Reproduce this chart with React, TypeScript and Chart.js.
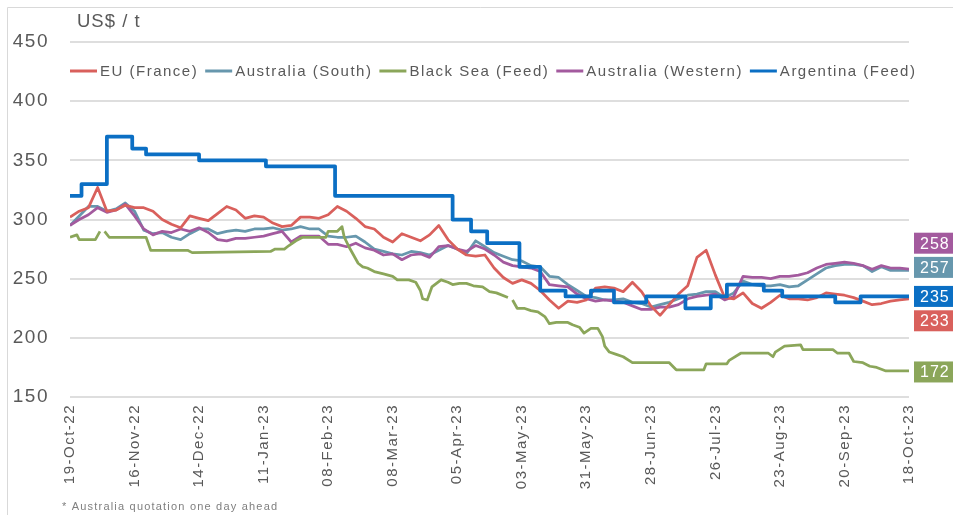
import React, { useEffect, useRef } from 'react';
import { Chart, registerables } from 'chart.js';

Chart.register(...registerables);

// ---------- DATA ----------
// day offsets from 19-Oct-22 (4-day sampling for the quoted series)
const DAYS = [
  0, 4, 8, 12, 16, 20, 24, 28, 32, 36,
  40, 44, 48, 52, 56, 60, 64, 68, 72, 76,
  80, 84, 88, 92, 96, 100, 104, 108, 112, 116,
  120, 124, 128, 132, 136, 140, 144, 148, 152, 156,
  160, 164, 168, 172, 176, 180, 184, 188, 192, 196,
  200, 204, 208, 212, 216, 220, 224, 228, 232, 236,
  240, 244, 248, 252, 256, 260, 264, 268, 272, 276,
  280, 284, 288, 292, 296, 300, 304, 308, 312, 316,
  320, 324, 328, 332, 336, 340, 344, 348, 352, 356,
  360, 364,
];

const EU_FRANCE = [
  302, 307, 310, 327, 307, 308, 312, 310, 310, 307,
  300, 296, 293, 303, 301, 299, 305, 311, 308, 301,
  303, 302, 297, 294, 295, 302, 302, 301, 304, 311,
  307, 301, 294, 292, 285, 281, 288, 285, 282, 287,
  295, 283, 275, 270, 269, 270, 259, 251, 246, 249,
  246, 240, 232, 225, 231, 230, 232, 242, 243, 242,
  239, 247, 239, 227, 219, 228, 237, 244, 268, 274,
  253, 234, 233, 238, 229, 225, 230, 236, 233, 233,
  232, 234, 238, 237, 236, 234, 231, 228, 229, 231,
  232, 233,
];

const AUS_SOUTH = [
  295, 303, 311, 311, 307, 309, 314, 307, 291, 288,
  289, 285, 283, 288, 292, 292, 288, 290, 291, 290,
  292, 292, 293, 291, 292, 294, 292, 292, 286, 285,
  285, 286, 281, 275, 273, 271, 270, 273, 272, 270,
  274, 278, 275, 271, 282, 277, 272, 269, 266, 265,
  261, 260, 252, 251, 245, 240, 235, 234, 232, 232,
  233, 230, 229, 226, 228, 230, 233, 236, 237, 239,
  239, 234, 238, 248, 245, 244, 244, 245, 243, 244,
  249, 254, 259, 261, 262, 262, 261, 256, 260, 257,
  257, 257,
];

const AUS_WESTERN = [
  295, 300, 304, 310, 306, 308, 313, 303, 292, 287,
  290, 289, 292, 290, 293, 289, 283, 282, 284, 284,
  285, 286, 288, 290, 281, 286, 286, 286, 279, 279,
  277, 280, 276, 274, 270, 271, 266, 270, 271, 268,
  277, 278, 275, 273, 278, 275, 270, 264, 261, 260,
  259, 256, 245, 244, 243, 237, 233, 231, 232, 231,
  230, 227, 224, 224, 226, 226, 228, 233, 235, 236,
  237, 232, 235, 252, 251, 251, 250, 252, 252, 253,
  255, 259, 262, 263, 264, 263, 261, 258, 261, 259,
  259, 258,
];

const BLACK_SEA_DAYS = [
  0, 3, 4, 11, 13, 14, 15, 17, 33, 35,
  51, 53, 87, 89, 93, 95, 98, 101, 111, 112,
  116, 118, 119, 121, 125, 127, 129, 132, 136, 140,
  142, 147, 150, 152, 153, 155, 157, 161, 164, 166,
  169, 172, 175, 179, 182, 185, 190, 191, 192, 194,
  197, 200, 203, 206, 208, 211, 216, 218, 221, 223,
  226, 229, 231, 232, 234, 237, 240, 244, 260, 263,
  275, 276, 285, 286, 291, 303, 305, 306, 310, 317,
  318, 331, 333, 338, 340, 344, 347, 350, 354, 364,
];
const BLACK_SEA = [
  285, 287, 283, 283, 290, null, 290, 285, 285, 274,
  274, 272, 273, 275, 275, 278, 282, 285, 285, 290,
  290, 294, 285, 277, 263, 260, 259, 256, 254, 252,
  249, 249, 247, 240, 233, 232, 243, 249, 247, 245,
  246, 246, 244, 243, 239, 238, 234, null, 232, 225,
  225, 223, 222, 218, 212, 213, 213, 211, 209, 204,
  208, 208, 201, 193, 188, 186, 184, 179, 179, 173,
  173, 178, 178, 181, 187, 187, 184, 188, 193, 194,
  190, 190, 187, 187, 180, 179, 176, 175, 172, 172,
];

// Argentina quotes change in steps: day the new price starts, price
const ARGENTINA_DAYS = [
  0, 5, 16, 27, 33, 56, 85, 115, 166, 174,
  181, 195, 204, 215, 226, 236, 250, 267, 278, 285,
  301, 309, 332, 343, 364,
];
const ARGENTINA = [
  320, 330, 370, 360, 355, 350, 345, 320, 300, 290,
  280, 260, 240, 235, 240, 230, 235, 225, 235, 245,
  240, 235, 230, 235, 235,
];

const X_TICK_LABELS = [
  '19-Oct-22', '16-Nov-22', '14-Dec-22', '11-Jan-23', '08-Feb-23', '08-Mar-23', '05-Apr-23',
  '03-May-23', '31-May-23', '28-Jun-23', '26-Jul-23', '23-Aug-23', '20-Sep-23', '18-Oct-23',
];

const SERIES_NAMES = ['EU (France)', 'Australia (South)', 'Black Sea (Feed)', 'Australia (Western)', 'Argentina (Feed)'];
const UNIT_LABEL = 'US$ / t';
const FOOTNOTE = '* Australia quotation one day ahead';

// ---------- STYLE ----------
const FONT = '"Liberation Sans", Arial, sans-serif';
const TEXT_GREY = '#595959';
const COLORS = ['#D9605C', '#6797AD', '#8BA65A', '#A35A9E', '#0B6FC4'];
const WIDTHS = [2.75, 2.75, 2.75, 2.75, 3.75];
const ORDERS = [2, 4, 1, 3, 0];
const END_LABEL_SHIFT = [22, -3, 1, -26, 0];

function pts(xs: number[], ys: (number | null)[]) {
  return xs.map((x, i) => ({ x, y: ys[i] }));
}

const decorPlugin = {
  id: 'decor',
  beforeUpdate(chart: any) {
    chart.ctx.letterSpacing = '1.5px';
  },
  beforeLayout(chart: any) {
    chart.ctx.letterSpacing = '1.5px';
  },
  beforeDraw(chart: any) {
    chart.ctx.letterSpacing = '1.5px';
  },
  afterDraw(chart: any) {
    const ctx = chart.ctx as CanvasRenderingContext2D & { letterSpacing?: string };
    const { left, right } = chart.chartArea;
    const yScale = chart.scales.y;
    ctx.save();

    // light frame (top & left)
    ctx.strokeStyle = '#d9d9d9';
    ctx.lineWidth = 1;
    ctx.beginPath();
    ctx.moveTo(7.5, chart.height);
    ctx.lineTo(7.5, 7.5);
    ctx.lineTo(chart.width, 7.5);
    ctx.stroke();

    // unit label
    ctx.letterSpacing = '1px';
    ctx.font = `18.5px ${FONT}`;
    ctx.fillStyle = TEXT_GREY;
    ctx.textAlign = 'left';
    ctx.textBaseline = 'alphabetic';
    ctx.fillText(UNIT_LABEL, left + 7, 27);

    // legend
    ctx.letterSpacing = '1.5px';
    ctx.font = `15px ${FONT}`;
    let x = left;
    const ly = 71;
    SERIES_NAMES.forEach((name, i) => {
      ctx.strokeStyle = COLORS[i];
      ctx.lineWidth = 3;
      ctx.beginPath();
      ctx.moveTo(x, ly);
      ctx.lineTo(x + 27, ly);
      ctx.stroke();
      ctx.fillStyle = TEXT_GREY;
      ctx.fillText(name, x + 30, 75.5);
      x += 30 + ctx.measureText(name).width + 7;
    });

    // end-value boxes
    ctx.letterSpacing = '1px';
    ctx.font = `16px ${FONT}`;
    ctx.textBaseline = 'middle';
    chart.data.datasets.forEach((ds: any, i: number) => {
      const vals = ds.data.map((p: any) => p.y).filter((v: any) => v !== null);
      const last = vals[vals.length - 1];
      const cy = yScale.getPixelForValue(last) + END_LABEL_SHIFT[i];
      const bx = right + 5;
      ctx.fillStyle = COLORS[i];
      ctx.fillRect(bx, cy - 10.5, 45, 21);
      ctx.fillStyle = '#ffffff';
      ctx.fillText(String(last), bx + 6, cy + 1);
    });

    // footnote
    ctx.letterSpacing = '1.2px';
    ctx.font = `11px ${FONT}`;
    ctx.fillStyle = '#7f7f7f';
    ctx.textBaseline = 'alphabetic';
    ctx.fillText(FOOTNOTE, 62, 510);

    ctx.restore();
  },
};

export default function App() {
  const ref = useRef<HTMLCanvasElement>(null);

  useEffect(() => {
    if (!ref.current) return;
    const seriesData = [
      pts(DAYS, EU_FRANCE),
      pts(DAYS, AUS_SOUTH),
      pts(BLACK_SEA_DAYS, BLACK_SEA),
      pts(DAYS, AUS_WESTERN),
      pts(ARGENTINA_DAYS, ARGENTINA),
    ];
    const chart = new Chart(ref.current, {
      type: 'line',
      data: {
        datasets: SERIES_NAMES.map((name, i) => ({
          label: name,
          data: seriesData[i],
          borderColor: COLORS[i],
          backgroundColor: COLORS[i],
          borderWidth: WIDTHS[i],
          pointRadius: 0,
          tension: 0,
          spanGaps: false,
          stepped: i === 4 ? 'before' : false,
          order: ORDERS[i],
          borderJoinStyle: 'round',
        })) as any,
      },
      options: {
        animation: false,
        responsive: false,
        maintainAspectRatio: false,
        layout: { padding: { top: 42, right: 44, left: 0, bottom: 0 } },
        plugins: {
          legend: { display: false },
          tooltip: { enabled: false },
        },
        scales: {
          x: {
            type: 'linear',
            min: 0,
            max: 364,
            grid: { display: false, drawTicks: false },
            border: { display: false },
            ticks: {
              stepSize: 28,
              autoSkip: false,
              maxRotation: 90,
              minRotation: 90,
              padding: 7,
              color: TEXT_GREY,
              font: { family: FONT, size: 15 },
              callback: (_v: any, i: number) => X_TICK_LABELS[i],
            },
            afterFit: (s: any) => {
              s.height = 118;
            },
          },
          y: {
            min: 150,
            max: 450,
            grid: { color: '#dedede', lineWidth: 2, drawTicks: false },
            border: { display: false },
            ticks: {
              stepSize: 50,
              padding: 21,
              color: TEXT_GREY,
              font: { family: FONT, size: 19 },
            },
            afterFit: (s: any) => {
              s.width = 70;
            },
          },
        },
      } as any,
      plugins: [decorPlugin],
    });
    return () => chart.destroy();
  }, []);

  return (
    <div style={{ position: 'absolute', left: 0, top: 0, width: 953, height: 515, background: '#fff' }}>
      <canvas ref={ref} width={953} height={515} style={{ display: 'block' }} />
    </div>
  );
}
